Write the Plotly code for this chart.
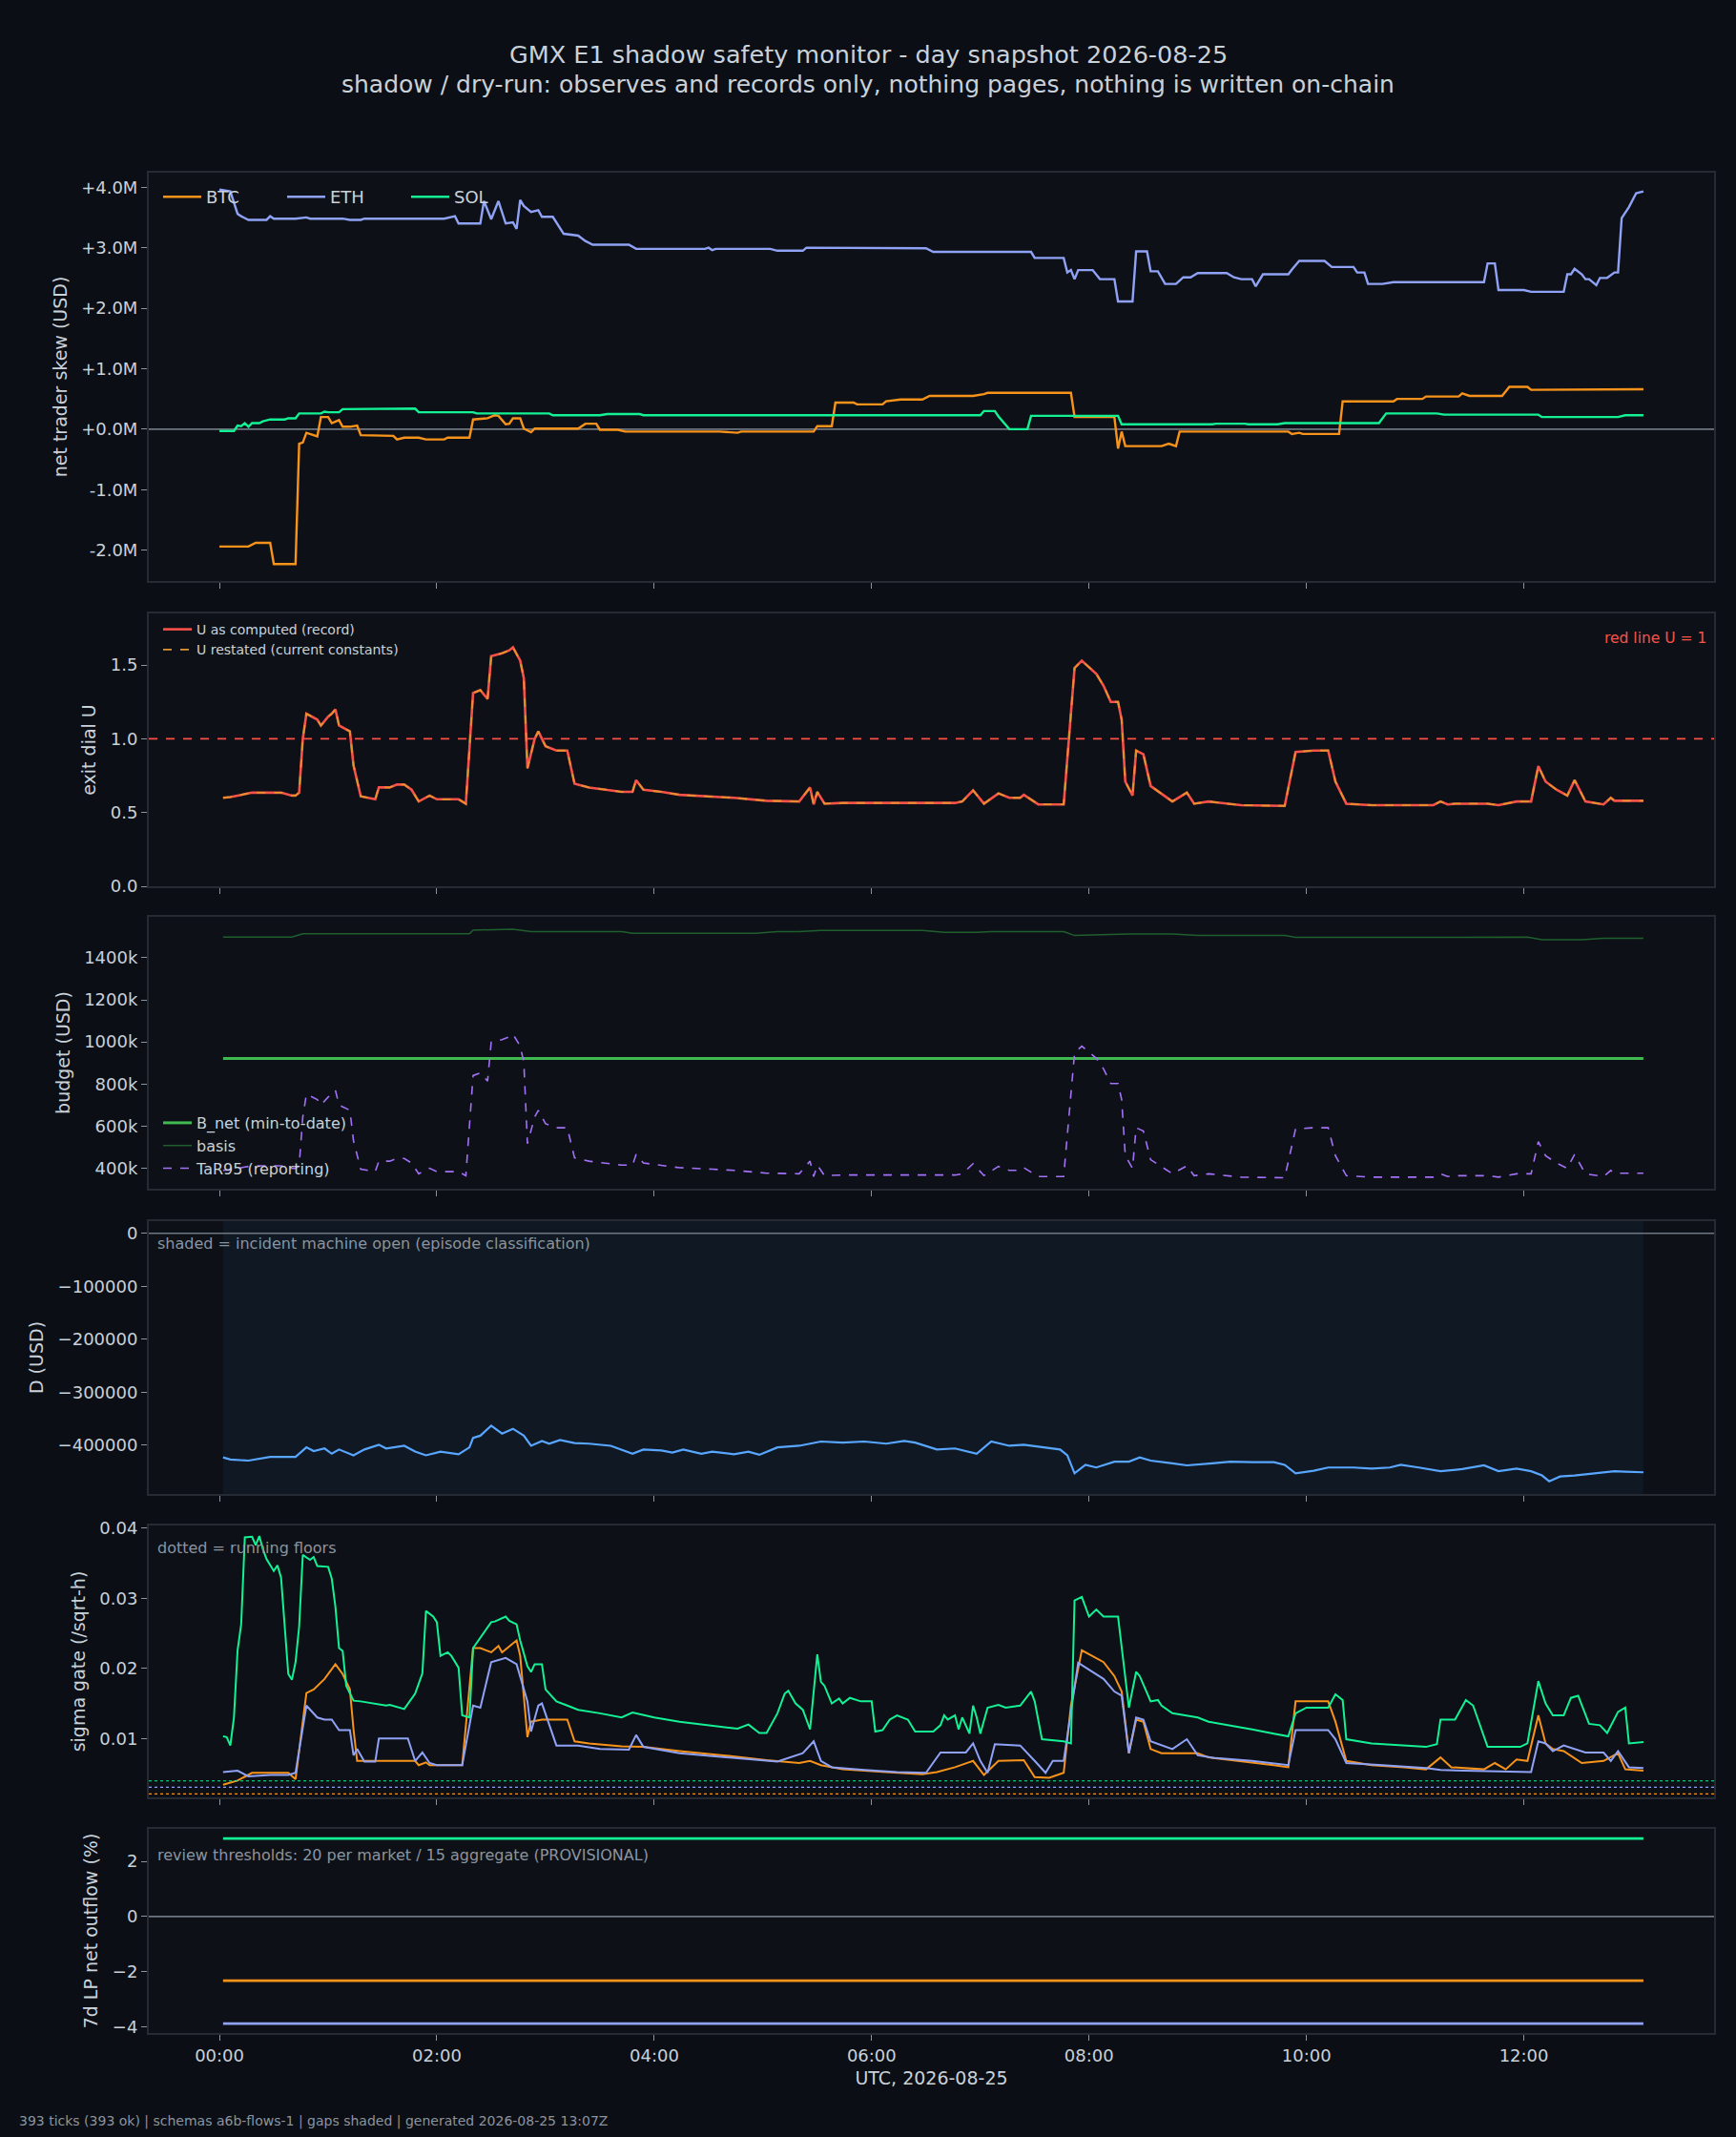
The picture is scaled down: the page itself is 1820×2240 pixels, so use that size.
import pandas as pd
import plotly.graph_objects as go
from plotly.subplots import make_subplots

# ---- dados (minutos desde 00:00 UTC) ----
dia = pd.Timestamp("2026-08-25")
fim = 786

# painel 1: skew liquido dos traders (milhoes USD)
btc_t = [0, 16, 20, 28, 30, 42, 44, 46, 48, 54, 56, 60, 62, 66, 68, 72, 76, 78, 96, 98, 102, 110, 114, 124,
         126, 138, 140, 148, 152, 154, 158, 160, 162, 166, 168, 172, 174, 198, 202, 208, 210, 220, 224, 276,
         286, 288, 328, 330, 338, 340, 350, 352, 366, 368, 376, 388, 392, 416, 422, 424, 470, 472, 494, 496,
         498, 500, 520, 524, 528, 530, 590, 592, 596, 598, 618, 620, 648, 650, 664, 666, 684, 686, 690, 708,
         712, 722, 724, 734, 736, 786]
btc_skew = [-1.94, -1.94, -1.88, -1.88, -2.23, -2.23, -0.24, -0.22, -0.06, -0.12, 0.20, 0.20, 0.10, 0.15, 0.04,
            0.04, 0.06, -0.10, -0.11, -0.17, -0.14, -0.14, -0.17, -0.17, -0.14, -0.14, 0.16, 0.18, 0.23, 0.22,
            0.08, 0.09, 0.18, 0.18, 0.01, -0.05, 0.01, 0.01, 0.09, 0.09, -0.01, -0.01, -0.04, -0.04, -0.06,
            -0.04, -0.04, 0.05, 0.05, 0.44, 0.44, 0.41, 0.41, 0.46, 0.49, 0.49, 0.55, 0.55, 0.58, 0.60, 0.60,
            0.20, 0.20, -0.32, -0.04, -0.28, -0.28, -0.24, -0.28, -0.04, -0.04, -0.08, -0.06, -0.08, -0.08,
            0.46, 0.46, 0.50, 0.50, 0.54, 0.54, 0.59, 0.55, 0.55, 0.70, 0.70, 0.65, 0.65, 0.66, 0.66]

eth_t = [0, 6, 10, 12, 16, 26, 28, 30, 42, 48, 50, 68, 72, 78, 80, 124, 130, 132, 144, 146, 150, 154, 158, 162,
         164, 166, 168, 172, 176, 178, 184, 190, 198, 202, 206, 226, 230, 268, 270, 272, 274, 304, 308, 322,
         324, 382, 390, 394, 448, 450, 466, 468, 470, 472, 474, 482, 486, 494, 496, 504, 506, 512, 514, 518,
         522, 528, 532, 536, 540, 556, 560, 564, 570, 572, 576, 590, 592, 596, 610, 614, 626, 628, 632, 634,
         642, 648, 698, 700, 704, 706, 720, 724, 742, 744, 746, 748, 752, 754, 756, 760, 762, 766, 770, 772,
         774, 778, 782, 786]
eth_skew = [3.96, 3.93, 3.56, 3.52, 3.46, 3.46, 3.52, 3.48, 3.48, 3.50, 3.48, 3.48, 3.46, 3.46, 3.48, 3.48,
            3.52, 3.40, 3.40, 3.77, 3.47, 3.77, 3.40, 3.42, 3.31, 3.79, 3.69, 3.59, 3.62, 3.51, 3.51, 3.23,
            3.20, 3.11, 3.05, 3.05, 2.98, 2.98, 3.00, 2.96, 2.98, 2.98, 2.95, 2.95, 3.00, 3.00, 2.99, 2.93,
            2.93, 2.83, 2.83, 2.59, 2.63, 2.48, 2.63, 2.63, 2.48, 2.48, 2.11, 2.11, 2.94, 2.94, 2.61, 2.61,
            2.40, 2.40, 2.51, 2.51, 2.58, 2.58, 2.51, 2.48, 2.48, 2.36, 2.56, 2.56, 2.64, 2.78, 2.78, 2.68,
            2.68, 2.59, 2.59, 2.40, 2.40, 2.43, 2.43, 2.74, 2.74, 2.30, 2.30, 2.27, 2.27, 2.56, 2.56, 2.65,
            2.56, 2.48, 2.48, 2.38, 2.50, 2.50, 2.59, 2.59, 3.49, 3.67, 3.90, 3.93]

sol_t = [0, 8, 10, 12, 14, 16, 18, 22, 24, 28, 36, 38, 42, 44, 56, 58, 60, 66, 68, 86, 88, 108, 110, 140, 142,
         182, 184, 210, 214, 232, 234, 420, 422, 428, 430, 436, 446, 448, 496, 498, 548, 550, 566, 568, 584,
         588, 640, 644, 672, 676, 728, 730, 772, 776, 786]
sol_skew = [-0.03, -0.03, 0.06, 0.05, 0.10, 0.04, 0.10, 0.10, 0.13, 0.16, 0.16, 0.18, 0.18, 0.26, 0.26, 0.29,
            0.28, 0.28, 0.33, 0.33, 0.34, 0.34, 0.28, 0.28, 0.26, 0.26, 0.23, 0.23, 0.25, 0.25, 0.23, 0.23,
            0.30, 0.30, 0.21, 0.00, 0.00, 0.22, 0.22, 0.08, 0.08, 0.09, 0.09, 0.08, 0.08, 0.10, 0.10, 0.26,
            0.26, 0.24, 0.24, 0.20, 0.20, 0.23, 0.23]

# painel 2 e 3: dial U, TaR95 (mil USD), basis (mil USD), B_net
u_t = [2, 6, 12, 18, 34, 40, 42, 44, 46, 48, 54, 56, 60, 62, 64, 66, 72, 74, 78, 86, 88, 94, 98, 102, 106, 110,
       116, 120, 132, 136, 140, 144, 148, 150, 156, 160, 162, 166, 168, 170, 174, 176, 180, 186, 192, 196, 204,
       222, 228, 230, 234, 244, 254, 272, 284, 302, 320, 326, 328, 330, 334, 344, 406, 410, 416, 422, 430, 436,
       442, 444, 452, 466, 472, 476, 484, 488, 492, 496, 498, 500, 504, 506, 510, 514, 526, 534, 538, 546, 564,
       588, 594, 604, 612, 616, 622, 636, 670, 674, 678, 682, 700, 706, 716, 724, 728, 732, 738, 744, 748, 754,
       764, 768, 770, 786]
u_dial = [0.60, 0.605, 0.62, 0.635, 0.635, 0.615, 0.615, 0.635, 1.00, 1.17, 1.13, 1.09, 1.15, 1.17, 1.20, 1.09,
          1.05, 0.82, 0.61, 0.59, 0.67, 0.67, 0.69, 0.69, 0.655, 0.575, 0.615, 0.59, 0.59, 0.56, 1.31, 1.33,
          1.27, 1.56, 1.58, 1.60, 1.62, 1.53, 1.41, 0.80, 1.00, 1.05, 0.95, 0.92, 0.92, 0.695, 0.67, 0.64, 0.64,
          0.72, 0.655, 0.64, 0.62, 0.61, 0.60, 0.58, 0.575, 0.67, 0.555, 0.64, 0.56, 0.565, 0.565, 0.575, 0.65,
          0.56, 0.63, 0.60, 0.60, 0.62, 0.555, 0.555, 1.48, 1.53, 1.44, 1.36, 1.25, 1.25, 1.13, 0.71, 0.615,
          0.92, 0.895, 0.68, 0.575, 0.635, 0.56, 0.575, 0.55, 0.545, 0.91, 0.92, 0.92, 0.71, 0.56, 0.55, 0.55,
          0.575, 0.555, 0.56, 0.56, 0.55, 0.575, 0.575, 0.815, 0.71, 0.655, 0.615, 0.72, 0.575, 0.555, 0.60,
          0.58, 0.58]
tar95 = [389, 392, 402, 411, 411, 399, 399, 411, 643, 751, 726, 700, 738, 751, 770, 700, 675, 529, 395, 383,
         433, 433, 446, 446, 424, 373, 399, 383, 383, 364, 840, 853, 814, 999, 1011, 1024, 1037, 980, 903, 516,
         643, 675, 611, 592, 592, 449, 433, 414, 414, 465, 424, 414, 402, 395, 389, 376, 373, 433, 360, 414,
         364, 367, 367, 373, 421, 364, 408, 389, 389, 402, 360, 360, 948, 980, 922, 872, 802, 802, 726, 459,
         399, 592, 576, 440, 373, 411, 364, 373, 357, 354, 586, 592, 592, 459, 364, 357, 357, 373, 360, 364,
         364, 357, 373, 373, 526, 459, 424, 399, 465, 373, 360, 389, 376, 376]

basis_t = [2, 40, 46, 138, 140, 152, 162, 172, 222, 228, 296, 308, 320, 332, 388, 400, 418, 426, 466, 472, 490,
           502, 526, 540, 588, 594, 674, 722, 730, 752, 764, 786]
basis = [1499, 1499, 1514, 1514, 1532, 1536, 1536, 1525, 1525, 1517, 1517, 1525, 1525, 1530, 1530, 1521, 1521,
         1525, 1525, 1506, 1510, 1513, 1513, 1506, 1506, 1497, 1497, 1499, 1486, 1486, 1493, 1493]
bnet_t = [2, 786]
bnet = [921, 921]

# painel 4: D (USD)
d_t = [2, 6, 16, 28, 42, 48, 52, 58, 62, 66, 74, 80, 88, 92, 102, 108, 114, 122, 132, 138, 140, 144, 150, 156,
       162, 168, 172, 178, 182, 188, 196, 204, 216, 228, 234, 244, 250, 256, 266, 272, 284, 292, 298, 308, 320,
       332, 344, 356, 368, 378, 384, 396, 406, 418, 426, 436, 444, 454, 464, 468, 472, 478, 484, 494, 502, 508,
       514, 526, 534, 548, 558, 570, 582, 588, 594, 604, 612, 626, 636, 646, 652, 662, 674, 686, 698, 706, 716,
       724, 730, 734, 740, 748, 758, 770, 776, 786]
d_usd = [-423000, -427000, -429000, -422000, -422000, -404000, -411000, -406000, -416000, -408000, -419000,
         -408000, -399000, -406000, -401000, -412000, -419000, -412000, -417000, -404000, -386000, -382000,
         -363000, -378000, -369000, -382000, -401000, -392000, -397000, -390000, -396000, -397000, -401000,
         -416000, -408000, -410000, -414000, -408000, -416000, -412000, -417000, -412000, -418000, -404000,
         -401000, -393000, -395000, -393000, -397000, -392000, -395000, -408000, -406000, -416000, -393000,
         -401000, -399000, -404000, -408000, -419000, -453000, -437000, -442000, -431000, -431000, -423000,
         -429000, -434000, -438000, -434000, -431000, -432000, -432000, -437000, -453000, -448000, -442000,
         -442000, -444000, -442000, -437000, -442000, -449000, -445000, -438000, -449000, -444000, -449000,
         -457000, -468000, -459000, -457000, -453000, -449000, -450000, -451000]

# painel 5: sigma gate (/sqrt-h)
sol_sig_t = [2, 4, 6, 8, 10, 12, 14, 18, 20, 22, 24, 26, 30, 32, 34, 38, 40, 42, 44, 46, 50, 52, 54, 60, 62, 64,
             66, 68, 70, 74, 78, 84, 92, 94, 102, 108, 112, 114, 118, 120, 122, 126, 128, 132, 134, 138, 140, 150,
             152, 158, 160, 164, 166, 170, 172, 174, 178, 180, 186, 192, 198, 210, 222, 228, 240, 254, 266, 278,
             286, 292, 298, 302, 308, 312, 314, 318, 322, 326, 330, 332, 334, 338, 342, 344, 348, 354, 360, 362,
             366, 370, 374, 380, 384, 394, 398, 400, 402, 406, 408, 410, 414, 416, 418, 420, 424, 430, 434, 442,
             448, 450, 454, 466, 470, 472, 476, 480, 484, 488, 496, 502, 506, 508, 514, 518, 520, 526, 540, 546,
             558, 570, 582, 590, 594, 600, 612, 616, 620, 622, 636, 654, 666, 672, 674, 682, 688, 692, 696, 700,
             718, 722, 728, 732, 736, 742, 746, 750, 756, 762, 766, 772, 776, 778, 786]
sol_sig = [0.0103, 0.0102, 0.0090, 0.0130, 0.0226, 0.0263, 0.0387, 0.0388, 0.0376, 0.0389, 0.0370, 0.0356,
           0.0339, 0.0347, 0.0330, 0.0192, 0.0184, 0.0209, 0.0260, 0.0362, 0.0355, 0.0359, 0.0346, 0.0345,
           0.0328, 0.0288, 0.0229, 0.0225, 0.0175, 0.0154, 0.0153, 0.0150, 0.0147, 0.0148, 0.0142, 0.0164,
           0.0193, 0.0282, 0.0274, 0.0266, 0.0218, 0.0223, 0.0218, 0.0201, 0.0133, 0.0130, 0.0229, 0.0266,
           0.0267, 0.0274, 0.0268, 0.0263, 0.0240, 0.0203, 0.0195, 0.0206, 0.0206, 0.0170, 0.0153, 0.0147,
           0.0141, 0.0136, 0.0130, 0.0137, 0.0130, 0.0124, 0.0120, 0.0116, 0.0114, 0.0120, 0.0108, 0.0108,
           0.0136, 0.0164, 0.0168, 0.0150, 0.0141, 0.0113, 0.0220, 0.0181, 0.0175, 0.0150, 0.0157, 0.0150,
           0.0158, 0.0153, 0.0153, 0.0110, 0.0112, 0.0127, 0.0133, 0.0127, 0.0110, 0.0110, 0.0119, 0.0133,
           0.0127, 0.0133, 0.0113, 0.0130, 0.0107, 0.0147, 0.0130, 0.0107, 0.0144, 0.0148, 0.0144, 0.0147,
           0.0167, 0.0153, 0.0099, 0.0096, 0.0093, 0.0297, 0.0302, 0.0274, 0.0284, 0.0274, 0.0274, 0.0144,
           0.0195, 0.0189, 0.0153, 0.0155, 0.0147, 0.0136, 0.0130, 0.0124, 0.0119, 0.0113, 0.0107, 0.0103,
           0.0136, 0.0144, 0.0144, 0.0163, 0.0155, 0.0099, 0.0093, 0.0090, 0.0088, 0.0092, 0.0127, 0.0127,
           0.0155, 0.0147, 0.0116, 0.0088, 0.0088, 0.0093, 0.0182, 0.0150, 0.0133, 0.0133, 0.0158, 0.0161,
           0.0121, 0.0119, 0.0108, 0.0138, 0.0144, 0.0093, 0.0095]

btc_sig_t = [2, 10, 18, 38, 42, 48, 52, 58, 64, 68, 72, 74, 76, 108, 110, 114, 116, 134, 140, 144, 150, 154, 156,
             164, 166, 170, 172, 178, 192, 196, 204, 222, 234, 254, 278, 302, 320, 326, 332, 344, 368, 388, 396,
             406, 416, 422, 430, 444, 450, 458, 466, 470, 476, 482, 488, 494, 498, 502, 506, 510, 514, 520, 540,
             546, 564, 582, 590, 594, 612, 616, 622, 636, 654, 666, 674, 680, 698, 704, 710, 716, 722, 728, 732,
             736, 742, 752, 764, 772, 776, 786]
btc_sig = [0.0034, 0.0040, 0.0051, 0.0051, 0.0042, 0.0165, 0.0170, 0.0185, 0.0206, 0.0192, 0.0170, 0.0113,
           0.0068, 0.0068, 0.0062, 0.0066, 0.0062, 0.0062, 0.0229, 0.0229, 0.0223, 0.0232, 0.0223, 0.0240,
           0.0218, 0.0102, 0.0124, 0.0127, 0.0127, 0.0096, 0.0093, 0.0089, 0.0088, 0.0082, 0.0076, 0.0069,
           0.0065, 0.0068, 0.0062, 0.0056, 0.0052, 0.0049, 0.0052, 0.0059, 0.0068, 0.0048, 0.0068, 0.0069,
           0.0045, 0.0044, 0.0051, 0.0147, 0.0226, 0.0218, 0.0209, 0.0189, 0.0167, 0.0079, 0.0127, 0.0124,
           0.0085, 0.0079, 0.0079, 0.0073, 0.0068, 0.0062, 0.0059, 0.0153, 0.0153, 0.0124, 0.0068, 0.0062,
           0.0059, 0.0056, 0.0073, 0.0059, 0.0056, 0.0065, 0.0056, 0.0070, 0.0068, 0.0133, 0.0093, 0.0085,
           0.0082, 0.0065, 0.0068, 0.0079, 0.0056, 0.0054]

eth_sig_t = [2, 10, 16, 28, 38, 42, 48, 54, 58, 62, 66, 72, 74, 76, 80, 86, 88, 104, 108, 112, 116, 120, 134, 140,
             144, 150, 158, 164, 170, 172, 176, 178, 186, 198, 210, 226, 230, 234, 254, 272, 290, 308, 322, 328,
             332, 338, 356, 374, 390, 398, 412, 416, 420, 424, 428, 442, 450, 456, 460, 466, 474, 482, 488, 494,
             498, 502, 506, 510, 514, 526, 534, 540, 550, 570, 590, 594, 612, 616, 622, 642, 666, 674, 692, 724,
             728, 732, 736, 742, 754, 764, 768, 772, 778, 786]
eth_sig = [0.0052, 0.0054, 0.0046, 0.0048, 0.0048, 0.0051, 0.0147, 0.0130, 0.0127, 0.0127, 0.0112, 0.0112,
           0.0076, 0.0085, 0.0067, 0.0067, 0.0100, 0.0100, 0.0068, 0.0080, 0.0065, 0.0062, 0.0062, 0.0147,
           0.0144, 0.0209, 0.0215, 0.0206, 0.0153, 0.0110, 0.0147, 0.0150, 0.0090, 0.0090, 0.0085, 0.0084,
           0.0105, 0.0088, 0.0079, 0.0075, 0.0070, 0.0067, 0.0079, 0.0096, 0.0068, 0.0059, 0.0055, 0.0052,
           0.0051, 0.0080, 0.0080, 0.0093, 0.0068, 0.0051, 0.0092, 0.0090, 0.0068, 0.0051, 0.0068, 0.0068,
           0.0208, 0.0195, 0.0185, 0.0167, 0.0161, 0.0079, 0.0130, 0.0127, 0.0096, 0.0085, 0.0099, 0.0076,
           0.0072, 0.0068, 0.0062, 0.0112, 0.0112, 0.0099, 0.0065, 0.0062, 0.0058, 0.0055, 0.0054, 0.0052,
           0.0096, 0.0093, 0.0082, 0.0090, 0.0080, 0.0080, 0.0068, 0.0082, 0.0059, 0.0058]

pisos = {"SOL": 0.00395, "ETH": 0.00304, "BTC": 0.0021}  # running floors (dotted)

# painel 6: 7d LP net outflow (%)
fluxo_t = [2, 786]
fluxo_btc = [-2.33, -2.33]
fluxo_eth = [-3.89, -3.89]
fluxo_sol = [2.83, 2.83]

# eixos
skew_ticks = [-2, -1, 0, 1, 2, 3, 4]
skew_labels = ["-2.0M", "-1.0M", "+0.0M", "+1.0M", "+2.0M", "+3.0M", "+4.0M"]
budget_ticks = [400, 600, 800, 1000, 1200, 1400]
budget_labels = ["400k", "600k", "800k", "1000k", "1200k", "1400k"]
d_ticks = [0, -100000, -200000, -300000, -400000]
d_labels = ["0", "\u2212100000", "\u2212200000", "\u2212300000", "\u2212400000"]
flow_ticks = [-4, -2, 0, 2]
flow_labels = ["\u22124", "\u22122", "0", "2"]
hora_ticks = [0, 120, 240, 360, 480, 600, 720]

# ---- estilo ----
BG = "#0b0e14"
PLOT_BG = "#0d1117"
TXT = "#c9d1d9"
CINZA = "#8b949e"
SPINE = "#262b33"
CORES = {"BTC": "#f7931a", "ETH": "#8fa2f5", "SOL": "#14f195"}
FONTE = "DejaVu Sans"


def tempo(mins):
    return dia + pd.to_timedelta(mins, unit="m")


fig = make_subplots(rows=6, cols=1, shared_xaxes=True)

for nome, tt, vv in [("BTC", btc_t, btc_skew), ("ETH", eth_t, eth_skew), ("SOL", sol_t, sol_skew)]:
    fig.add_trace(go.Scatter(x=tempo(tt), y=vv, mode="lines", name=nome, legend="legend",
                             line=dict(color=CORES[nome], width=2.4)), row=1, col=1)

fig.add_trace(go.Scatter(x=tempo(u_t), y=u_dial, mode="lines", name="U as computed (record)", legend="legend2",
                         line=dict(color="#f85149", width=2.6)), row=2, col=1)
fig.add_trace(go.Scatter(x=tempo(u_t), y=u_dial, mode="lines", name="U restated (current constants)",
                         legend="legend2", line=dict(color="#e3942a", width=1.8, dash="dash")), row=2, col=1)

fig.add_trace(go.Scatter(x=tempo(basis_t), y=basis, mode="lines", name="basis", legend="legend3", legendrank=2,
                         line=dict(color="#1f5f2e", width=1.5)), row=3, col=1)
fig.add_trace(go.Scatter(x=tempo(bnet_t), y=bnet, mode="lines", name="B_net (min-to-date)", legend="legend3",
                         legendrank=1, line=dict(color="#3fb950", width=3)), row=3, col=1)
fig.add_trace(go.Scatter(x=tempo(u_t), y=tar95, mode="lines", name="TaR95 (reporting)", legend="legend3",
                         legendrank=3, line=dict(color="#a371f7", width=1.6, dash="dash")), row=3, col=1)

fig.add_trace(go.Scatter(x=tempo(d_t), y=d_usd, mode="lines", showlegend=False,
                         line=dict(color="#58a6ff", width=2.2)), row=4, col=1)

for nome, tt, vv in [("BTC", btc_sig_t, btc_sig), ("ETH", eth_sig_t, eth_sig), ("SOL", sol_sig_t, sol_sig)]:
    fig.add_trace(go.Scatter(x=tempo(tt), y=vv, mode="lines", showlegend=False,
                             line=dict(color=CORES[nome], width=2)), row=5, col=1)

for nome, vv in [("BTC", fluxo_btc), ("ETH", fluxo_eth), ("SOL", fluxo_sol)]:
    fig.add_trace(go.Scatter(x=tempo(fluxo_t), y=vv, mode="lines", showlegend=False,
                             line=dict(color=CORES[nome], width=2.8)), row=6, col=1)

# sombreado primeiro, depois linhas de referencia por cima
fig.add_vrect(x0=tempo(2), x1=tempo(fim), row=4, col=1, fillcolor="#0f1823", line_width=0, layer="below")
for r in (1, 4, 6):
    fig.add_hline(y=0, row=r, col=1, line=dict(color="#6e7681", width=1.6), layer="below")
fig.add_hline(y=1.0, row=2, col=1, line=dict(color="#f85149", width=1.6, dash="dash"))
for nome, v in pisos.items():
    fig.add_hline(y=v, row=5, col=1, line=dict(color=CORES[nome], width=1.2, dash="dot"))

# ---- layout (pixels da referencia -> fracoes) ----
L, R, T, B = 156, 1797, 181, 2131
W, H = 1820, 2240


def fy(py):
    return (B - py) / (B - T)


def fx(px):
    return (px - L) / (R - L)


dominios = [(609, 181), (929, 643), (1246, 961), (1566, 1280), (1884, 1599), (2131, 1917)]
faixa_x = [tempo(-39), tempo(825)]

eixo_base = dict(showgrid=False, zeroline=False, showline=True, mirror=True, linecolor=SPINE, linewidth=2,
                 ticks="outside", ticklen=6, tickwidth=1.2, tickcolor=CINZA, automargin=False,
                 tickfont=dict(size=18, color=TXT, family=FONTE))

titulos_y = ["net trader skew (USD)", "exit dial U", "budget (USD)", "D (USD)", "sigma gate (/sqrt-h)",
             "7d LP net outflow (%)"]
faixas_y = [[-2.51, 4.24], [0, 1.85], [302, 1595], [-492000, 23000], [0.0016, 0.0404], [-4.23, 3.18]]

for i in range(6):
    sfx = "" if i == 0 else str(i + 1)
    ax = dict(eixo_base)
    ax.update(range=faixa_x, domain=[0, 1], tickvals=tempo(hora_ticks), showticklabels=(i == 5),
              tickformat="%H:%M")
    if i == 5:
        ax.update(title=dict(text="UTC, 2026-08-25", font=dict(size=19, color=TXT, family=FONTE), standoff=8))
    fig.layout["xaxis" + sfx].update(ax)

    ay = dict(eixo_base)
    ay.update(range=faixas_y[i], domain=[fy(dominios[i][0]), fy(dominios[i][1])],
              title=dict(text=titulos_y[i], font=dict(size=19, color=TXT, family=FONTE), standoff=10))
    fig.layout["yaxis" + sfx].update(ay)

fig.layout.yaxis.update(tickvals=skew_ticks, ticktext=skew_labels)
fig.layout.yaxis2.update(tickvals=[0, 0.5, 1.0, 1.5], ticktext=["0.0", "0.5", "1.0", "1.5"])
fig.layout.yaxis3.update(tickvals=budget_ticks, ticktext=budget_labels)
fig.layout.yaxis4.update(tickvals=d_ticks, ticktext=d_labels)
fig.layout.yaxis5.update(tickvals=[0.01, 0.02, 0.03, 0.04], ticktext=["0.01", "0.02", "0.03", "0.04"])
fig.layout.yaxis6.update(tickvals=flow_ticks, ticktext=flow_labels)

legenda = dict(bgcolor="rgba(0,0,0,0)", borderwidth=0, xanchor="left", yanchor="top")
fig.update_layout(
    width=W, height=H,
    margin=dict(l=L, r=W - R, t=T, b=H - B),
    paper_bgcolor=BG, plot_bgcolor=PLOT_BG,
    font=dict(family=FONTE, color=TXT, size=15),
    legend=dict(legenda, x=fx(166), y=fy(188), orientation="h", font=dict(size=18, color=TXT),
                itemwidth=40, entrywidth=75, entrywidthmode="pixels"),
    legend2=dict(legenda, x=fx(166), y=fy(644), font=dict(size=14, color=TXT), tracegroupgap=0),
    legend3=dict(legenda, x=fx(166), y=fy(1160), font=dict(size=16, color=TXT)),
)

notas = [
    (910, 57, "GMX E1 shadow safety monitor - day snapshot 2026-08-25", 25.5, TXT, "center"),
    (910, 89, "shadow / dry-run: observes and records only, nothing pages, nothing is written on-chain", 25, TXT,
     "center"),
    (1791, 669, "red line U = 1", 15.5, "#f85149", "right"),
    (163, 1303, "shaded = incident machine open (episode classification)", 16, CINZA, "left"),
    (163, 1622, "dotted = running floors", 16, CINZA, "left"),
    (163, 1944, "review thresholds: 20 per market / 15 aggregate (PROVISIONAL)", 16, CINZA, "left"),
    (18, 2223, "393 ticks (393 ok) | schemas a6b-flows-1 | gaps shaded | generated 2026-08-25 13:07Z", 14, CINZA,
     "left"),
]
for px, py, txt, sz, cor, anc in notas:
    fig.add_annotation(x=fx(px), y=fy(py), xref="paper", yref="paper", text=txt, showarrow=False,
                       xanchor=anc, yanchor="middle", font=dict(size=sz, color=cor, family=FONTE))

fig.write_html("out.html", config={"displayModeBar": False},
               post_script="document.body.style.margin='0';document.body.style.background='#0b0e14';")
